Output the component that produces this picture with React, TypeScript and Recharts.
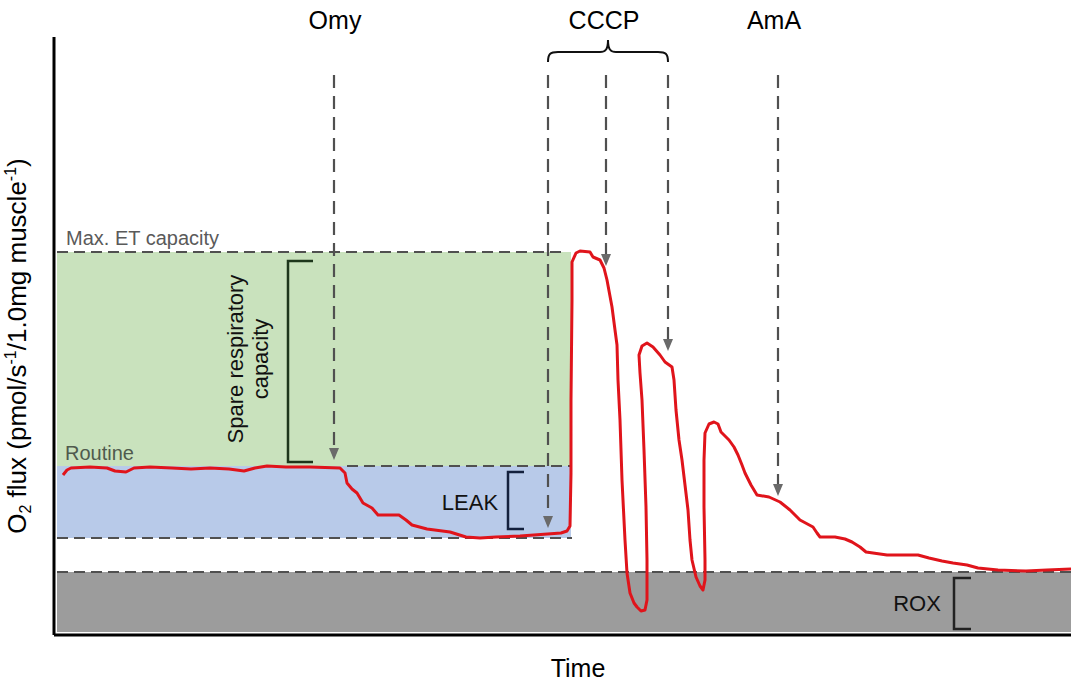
import React from 'react'
import {
  ComposedChart,
  Line,
  XAxis,
  YAxis,
  ReferenceArea,
  ReferenceLine,
  ReferenceDot
} from 'recharts'

// schematic O2 flux trace, arbitrary units (time 0-1017, flux 0-598)
const traceTime = [
  9, 13, 17, 36, 53, 61, 72, 80, 96, 118, 137, 156, 175, 190, 201, 213, 232, 256, 286, 291,
  293, 298, 303, 309, 318, 324, 345, 352, 358, 373, 396, 412, 426, 442, 466, 480, 507, 513, 516, 517,
  517, 518, 518, 522, 526, 536, 539, 546, 550, 553, 558, 561, 563, 564, 566, 568, 571, 573, 576, 580,
  583, 587, 591, 593, 593, 592, 590, 588, 586, 585, 588, 593, 599, 606, 611, 618, 620, 622, 625, 628,
  631, 634, 636, 638, 642, 646, 649, 651, 651, 650, 650, 651, 655, 660, 664, 667, 675, 680, 684, 688,
  691, 697, 703, 715, 726, 736, 746, 759, 763, 766, 781, 791, 798, 806, 812, 819, 833, 851, 864, 875,
  888, 899, 913, 924, 944, 972, 993, 1017
]
const traceFlux = [
  160, 165, 167, 168, 167, 164, 163, 167, 168, 167, 166, 167, 166, 164, 167, 169, 168, 168, 167, 162,
  152, 146, 142, 132, 127, 120, 120, 115, 110, 106, 103, 98, 97, 98, 99, 100, 102, 104, 109, 162,
  235, 335, 373, 382, 384, 383, 378, 375, 367, 355, 328, 305, 290, 255, 215, 155, 95, 62, 42, 32,
  28, 24, 25, 35, 75, 128, 185, 235, 262, 280, 289, 292, 288, 280, 273, 268, 255, 225, 195, 175,
  150, 125, 95, 75, 58, 49, 45, 55, 75, 128, 175, 202, 211, 213, 211, 203, 195, 188, 180, 170,
  162, 150, 140, 138, 133, 125, 115, 108, 102, 98, 98, 96, 93, 88, 83, 82, 80, 80, 80, 77,
  74, 72, 70, 67, 65, 64, 65, 66
]
const traceData = traceTime.map((t, i) => ({ t, flux: traceFlux[i] }))

// respiratory states
const maxEtLevel = 383
const routineLevel = 169
const leakLevel = 97
const roxLevel = 63

// titrations: Omy, CCCP (x3), AmA
const injectionTimes = [280, 494, 552, 614, 724]
const injectionTipFlux = [175, 107, 369, 284, 139]
const injectionStartFlux = 560

const FONT = '"Liberation Sans", Arial, sans-serif'

const DashedArrow = (p: any) => {
  const x = p.x1
  const top = Math.min(p.y1, p.y2)
  const tip = Math.max(p.y1, p.y2)
  return (
    <g>
      <line x1={x} y1={top} x2={x} y2={tip - 8} stroke="#505050" strokeWidth={2.2} strokeDasharray="13 8" />
      <path d={`M${x - 5},${tip - 12} L${x + 5},${tip - 12} L${x},${tip} Z`} fill="#6a6a6a" />
    </g>
  )
}

const bracket = (color: string, tick: number) => (p: any) => {
  const top = Math.min(p.y1, p.y2)
  const bot = Math.max(p.y1, p.y2)
  return (
    <path
      d={`M${p.x1 + tick},${top} L${p.x1},${top} L${p.x1},${bot} L${p.x1 + tick},${bot}`}
      fill="none"
      stroke={color}
      strokeWidth={2.5}
    />
  )
}

const Brace = (p: any) => {
  const a = Math.min(p.x1, p.x2)
  const b = Math.max(p.x1, p.x2)
  const y = p.y1
  const m = (a + b) / 2
  const h = y - 10
  return (
    <path
      d={`M${a},${y} C${a},${h + 2} ${a + 2},${h} ${a + 10},${h} L${m - 8},${h} C${m - 3},${h} ${m},${h - 2} ${m},${h - 12} C${m},${h - 2} ${m + 3},${h} ${m + 8},${h} L${b - 10},${h} C${b - 2},${h} ${b},${h + 2} ${b},${y}`}
      fill="none"
      stroke="#111"
      strokeWidth={2}
    />
  )
}

const textAt = (text: string, size: number, color: string, anchor: string = 'middle') => (p: any) => (
  <text x={p.cx} y={p.cy} fontSize={size} fill={color} textAnchor={anchor} fontFamily={FONT}>
    {text}
  </text>
)

const SpareLabel = (p: any) => (
  <text
    transform={`translate(${p.cx},${p.cy}) rotate(-90)`}
    textAnchor="middle"
    fontSize={22}
    fill="#111"
    fontFamily={FONT}
  >
    <tspan x={0} y={0}>Spare respiratory</tspan>
    <tspan x={0} y={25}>capacity</tspan>
  </text>
)

const YTitle = (p: any) => (
  <text
    transform={`translate(${p.cx},${p.cy}) rotate(-90)`}
    textAnchor="middle"
    fontSize={26}
    fill="#000"
    fontFamily={FONT}
  >
    <tspan>O</tspan>
    <tspan fontSize={16} dy={5}>2</tspan>
    <tspan dy={-5}>{' flux (pmol/s'}</tspan>
    <tspan fontSize={16} dy={-10}>-1</tspan>
    <tspan dy={10}>{'/1.0mg muscle'}</tspan>
    <tspan fontSize={16} dy={-10}>-1</tspan>
    <tspan dy={10}>)</tspan>
  </text>
)

export default function App() {
  return (
    <div style={{ position: 'absolute', left: 0, top: 0, width: 1084, height: 690, background: '#fff' }}>
      <ComposedChart width={1084} height={690} margin={{ top: 37, right: 13, bottom: 25, left: 24 }}>
        <XAxis
          type="number"
          dataKey="t"
          domain={[0, 1017]}
          allowDataOverflow
          height={30}
          tick={false}
          tickLine={false}
          axisLine={{ stroke: '#000', strokeWidth: 3 }}
        />
        <YAxis
          type="number"
          domain={[0, 598]}
          allowDataOverflow
          width={30}
          tick={false}
          tickLine={false}
          axisLine={{ stroke: '#000', strokeWidth: 3 }}
        />

        <ReferenceArea x1={3} x2={517} y1={routineLevel} y2={maxEtLevel} fill="#c9e2bd" fillOpacity={1} stroke="none" />
        <ReferenceArea x1={3} x2={517} y1={leakLevel} y2={routineLevel} fill="#b8cae9" fillOpacity={1} stroke="none" />
        <ReferenceArea x1={3} x2={1017} y1={3} y2={roxLevel} fill="#9c9c9c" fillOpacity={1} stroke="none" />

        <ReferenceLine segment={[{ x: 3, y: maxEtLevel }, { x: 510, y: maxEtLevel }]} stroke="#505050" strokeWidth={2.2} strokeDasharray="11 6" />
        <ReferenceLine segment={[{ x: 293, y: routineLevel }, { x: 517, y: routineLevel }]} stroke="#505050" strokeWidth={2.2} strokeDasharray="11 6" />
        <ReferenceLine segment={[{ x: 3, y: leakLevel }, { x: 518, y: leakLevel }]} stroke="#505050" strokeWidth={2.2} strokeDasharray="11 6" />
        <ReferenceLine segment={[{ x: 3, y: roxLevel }, { x: 1017, y: roxLevel }]} stroke="#505050" strokeWidth={2.2} strokeDasharray="11 6" />

        {injectionTimes.map((t, i) => (
          <ReferenceLine
            key={'inj' + i}
            segment={[{ x: t, y: injectionStartFlux }, { x: t, y: injectionTipFlux[i] }]}
            shape={DashedArrow}
          />
        ))}

        <ReferenceLine segment={[{ x: 494, y: 573 }, { x: 614, y: 573 }]} shape={Brace} />

        <ReferenceLine segment={[{ x: 234, y: 374 }, { x: 234, y: 173 }]} shape={bracket('#1d361b', 25)} />
        <ReferenceLine segment={[{ x: 454, y: 163 }, { x: 454, y: 106 }]} shape={bracket('#13203d', 16)} />
        <ReferenceLine segment={[{ x: 900, y: 57 }, { x: 900, y: 6 }]} shape={bracket('#222', 17)} />

        <Line
          data={traceData}
          dataKey="flux"
          type="linear"
          stroke="#e0141b"
          strokeWidth={3}
          strokeLinejoin="round"
          dot={false}
          activeDot={false}
          isAnimationActive={false}
        />

        <ReferenceDot x={281} y={606} r={0} ifOverflow="visible" shape={textAt('Omy', 25, '#000')} />
        <ReferenceDot x={550} y={606} r={0} ifOverflow="visible" shape={textAt('CCCP', 25, '#000')} />
        <ReferenceDot x={720} y={606} r={0} ifOverflow="visible" shape={textAt('AmA', 25, '#000')} />
        <ReferenceDot x={12} y={390} r={0} ifOverflow="visible" shape={textAt('Max. ET capacity', 20, '#5a5a5a', 'start')} />
        <ReferenceDot x={11} y={175} r={0} ifOverflow="visible" shape={textAt('Routine', 20, '#4f5a4d', 'start')} />
        <ReferenceDot x={416} y={125} r={0} ifOverflow="visible" shape={textAt('LEAK', 22, '#111')} />
        <ReferenceDot x={863} y={24} r={0} ifOverflow="visible" shape={textAt('ROX', 22, '#111')} />
        <ReferenceDot x={189} y={276} r={0} ifOverflow="visible" shape={SpareLabel} />
        <ReferenceDot x={524} y={-42} r={0} ifOverflow="visible" shape={textAt('Time', 25, '#000')} />
        <ReferenceDot x={-28} y={289} r={0} ifOverflow="visible" shape={YTitle} />
      </ComposedChart>
    </div>
  )
}
